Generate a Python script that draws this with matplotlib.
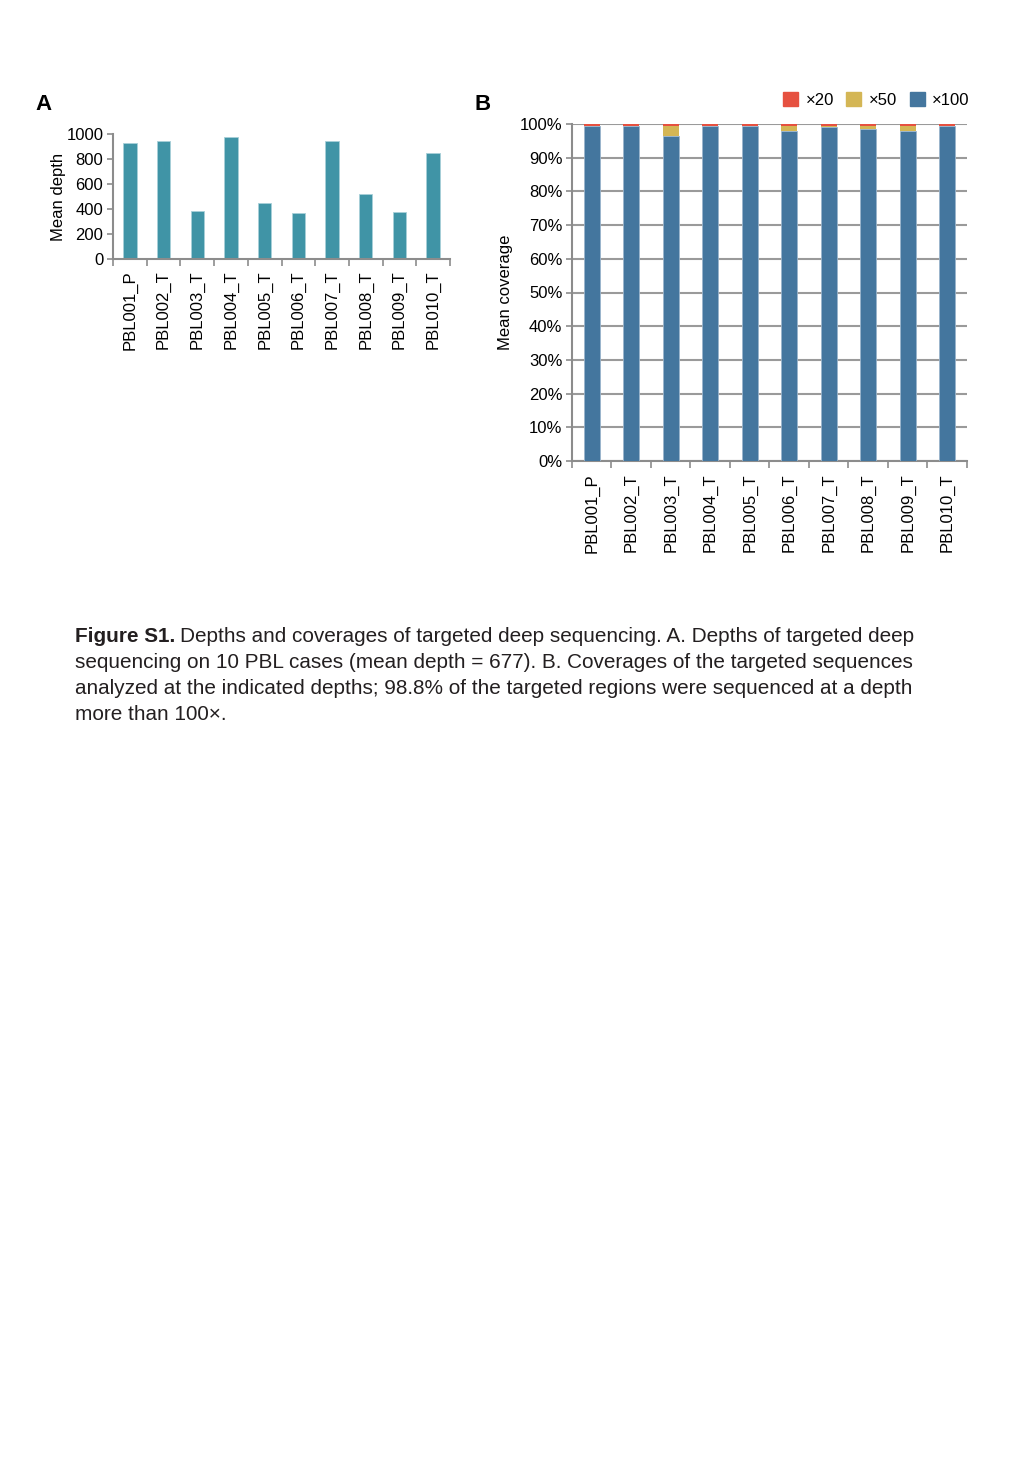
import matplotlib
matplotlib.use('Agg')
import matplotlib.pyplot as plt
from matplotlib.patches import Patch

plt.rcParams['font.family'] = ['Liberation Sans', 'DejaVu Sans']

# データ
samples = ['PBL001_P', 'PBL002_T', 'PBL003_T', 'PBL004_T', 'PBL005_T',
           'PBL006_T', 'PBL007_T', 'PBL008_T', 'PBL009_T', 'PBL010_T']
mean_depth = [931, 944, 385, 976, 451, 366, 944, 523, 374, 849]
cov_100 = [99.4, 99.4, 96.5, 99.4, 99.4, 98.0, 99.1, 98.5, 98.0, 99.4]
cov_50 = [0.1, 0.1, 3.0, 0.1, 0.1, 1.5, 0.4, 1.0, 1.5, 0.1]
cov_20 = [0.5, 0.5, 0.5, 0.5, 0.5, 0.5, 0.5, 0.5, 0.5, 0.5]

W, H = 1020, 1465
fig = plt.figure(figsize=(W / 100, H / 100), dpi=100)


def px_axes(left, top, right, bottom):
    return fig.add_axes([left / W, 1 - bottom / H, (right - left) / W, (bottom - top) / H])


grey = '#8c8c8c'
fs = 12
x = list(range(len(samples)))
bounds = [i - 0.5 for i in range(len(samples) + 1)]

# A: 平均深度
ax1 = px_axes(113, 134, 450, 259)
ax1.bar(x, mean_depth, width=0.4, color='#4094A6', edgecolor='#a8d0d8', linewidth=0.6)
ax1.set_xlim(-0.5, 9.5)
ax1.set_ylim(0, 1000)
ax1.set_yticks([0, 200, 400, 600, 800, 1000])
ax1.set_xticks(x)
ax1.set_xticklabels(samples, rotation=90, fontsize=fs)
ax1.set_xticks(bounds, minor=True)
ax1.tick_params(axis='x', which='major', length=0, pad=8)
ax1.tick_params(axis='x', which='minor', length=5, color=grey, width=1.2)
ax1.tick_params(axis='y', length=4, color=grey, width=1.2, labelsize=fs, pad=3)
ax1.set_ylabel('Mean depth', fontsize=fs, labelpad=0)
for s in ['top', 'right']:
    ax1.spines[s].set_visible(False)
for s in ['left', 'bottom']:
    ax1.spines[s].set_color(grey)
    ax1.spines[s].set_linewidth(1.5)

# B: カバレッジ
ax2 = px_axes(572, 124, 967, 461)
bot50 = cov_100
bot20 = [a + b for a, b in zip(cov_100, cov_50)]
ax2.bar(x, cov_100, width=0.4, color='#44769E', edgecolor='#9bb5cc', linewidth=0.6, zorder=3)
ax2.bar(x, cov_50, width=0.4, bottom=bot50, color='#D4B655', linewidth=0, zorder=3)
ax2.bar(x, cov_20, width=0.4, bottom=bot20, color='#E65140', linewidth=0, zorder=3)
ax2.set_xlim(-0.5, 9.5)
ax2.set_ylim(0, 100)
ax2.set_yticks(range(0, 101, 10))
ax2.set_yticklabels([f'{v}%' for v in range(0, 101, 10)])
ax2.yaxis.grid(True, color='#9a9a9a', linewidth=1.5, zorder=0)
ax2.set_axisbelow(True)
ax2.set_xticks(x)
ax2.set_xticklabels(samples, rotation=90, fontsize=fs)
ax2.set_xticks(bounds, minor=True)
ax2.tick_params(axis='x', which='major', length=0, pad=9)
ax2.tick_params(axis='x', which='minor', length=5, color=grey, width=1.2)
ax2.tick_params(axis='y', length=4, color=grey, width=1.2, labelsize=fs, pad=3)
ax2.set_ylabel('Mean coverage', fontsize=fs, labelpad=5)
for s in ['top', 'right']:
    ax2.spines[s].set_visible(False)
for s in ['left', 'bottom']:
    ax2.spines[s].set_color(grey)
    ax2.spines[s].set_linewidth(1.5)

handles = [Patch(color='#E65140', label='×20'),
           Patch(color='#D4B655', label='×50'),
           Patch(color='#44769E', label='×100')]
fig.legend(handles=handles, loc='center right', bbox_to_anchor=(978 / W, 1 - 100 / H),
           ncol=3, frameon=False, fontsize=fs, handlelength=0.9, handleheight=0.9,
           handletextpad=0.45, columnspacing=0.75, borderpad=0)

fig.text(43 / W, 1 - 104 / H, 'A', fontsize=16, fontweight='bold', ha='center', va='center')
fig.text(483 / W, 1 - 104 / H, 'B', fontsize=16, fontweight='bold', ha='center', va='center')

# キャプション
cap_lines = [
    'Depths and coverages of targeted deep sequencing. A. Depths of targeted deep',
    'sequencing on 10 PBL cases (mean depth = 677). B. Coverages of the targeted sequences',
    'analyzed at the indicated depths; 98.8% of the targeted regions were sequenced at a depth',
    'more than 100×.',
]
cap_fs = 14.95
x0 = 75 / W
bold = fig.text(x0, 1 - 637 / H, 'Figure S1.', fontsize=cap_fs, fontweight='bold',
                va='center', color='#231f20')
renderer = fig.canvas.get_renderer()
bb = bold.get_window_extent(renderer)
fig.text(bb.x1 / W + 5 / W, 1 - 637 / H, cap_lines[0], fontsize=cap_fs, va='center', color='#231f20')
for i, line in enumerate(cap_lines[1:]):
    fig.text(x0, 1 - (637 + 25.7 * (i + 1)) / H, line, fontsize=cap_fs, va='center', color='#231f20')

fig.savefig('out.png', dpi=100)
